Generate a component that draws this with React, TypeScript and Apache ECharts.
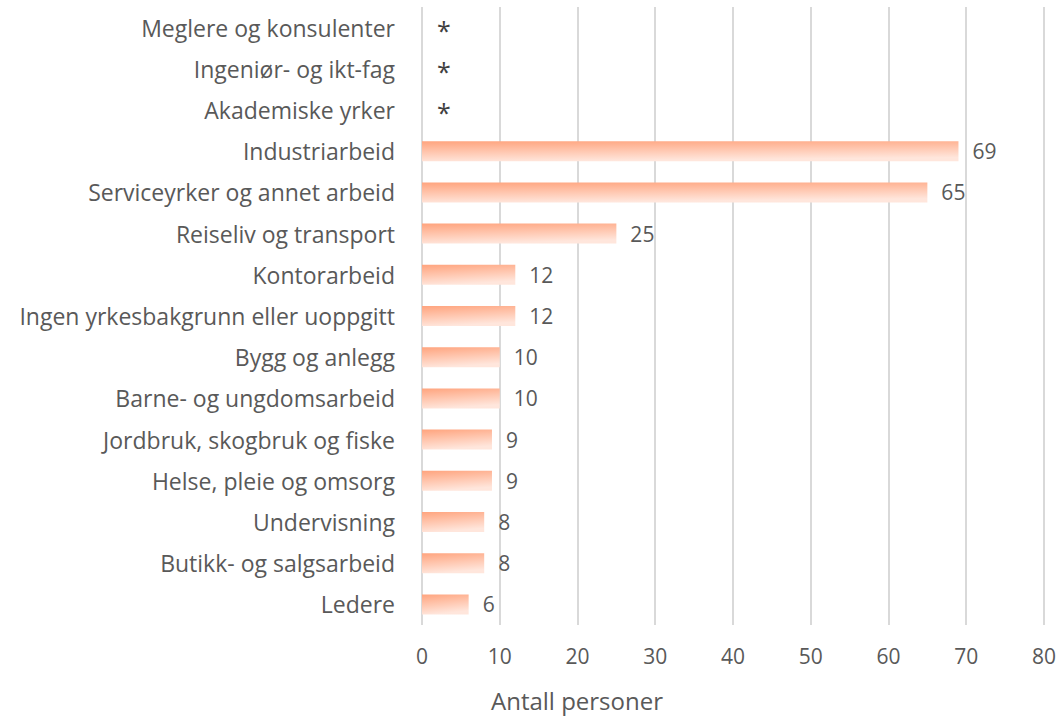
import React, { useEffect, useRef } from "react";
import * as echarts from "echarts";

const categories = [
  "Meglere og konsulenter",
  "Ingeniør- og ikt-fag",
  "Akademiske yrker",
  "Industriarbeid",
  "Serviceyrker og annet arbeid",
  "Reiseliv og transport",
  "Kontorarbeid",
  "Ingen yrkesbakgrunn eller uoppgitt",
  "Bygg og anlegg",
  "Barne- og ungdomsarbeid",
  "Jordbruk, skogbruk og fiske",
  "Helse, pleie og omsorg",
  "Undervisning",
  "Butikk- og salgsarbeid",
  "Ledere",
];
// null = suppressed value shown as "*"
const values: (number | null)[] = [null, null, null, 69, 65, 25, 12, 12, 10, 10, 9, 9, 8, 8, 6];
const axisTitle = "Antall personer";

const FONT = "'Open Sans', sans-serif";
const TEXT = "#595959";

export default function App() {
  const ref = useRef<HTMLDivElement>(null);
  useEffect(() => {
    if (!ref.current) return;
    const chart = echarts.init(ref.current, undefined, { renderer: "svg" });
    chart.setOption({
      animation: false,
      grid: { left: 422, right: 15, top: 7, bottom: 91, containLabel: false },
      xAxis: {
        type: "value",
        min: 0,
        max: 80,
        interval: 10,
        axisLine: { show: false },
        axisTick: { show: false },
        splitLine: { show: true, lineStyle: { color: "#d9d9d9", width: 2 } },
        axisLabel: { color: TEXT, fontSize: 21, fontFamily: FONT, margin: 20 },
      },
      yAxis: {
        type: "category",
        inverse: true,
        data: categories,
        axisLine: { show: false },
        axisTick: { show: false },
        axisLabel: { color: TEXT, fontSize: 23, fontFamily: FONT, margin: 27 },
      },
      graphic: [
        {
          type: "text",
          left: 491,
          top: 688,
          style: { text: axisTitle, fill: TEXT, font: `24px ${FONT}` },
        },
      ],
      series: [
        {
          type: "bar",
          barWidth: 20,
          data: values.map((v) => (v === null ? 0 : v)),
          itemStyle: {
            color: new echarts.graphic.LinearGradient(0, 0, 0.25, 1, [
              { offset: 0, color: "#ffa47e" },
              { offset: 1, color: "#ffe6dc" },
            ]),
          },
          label: {
            show: true,
            position: "right",
            distance: 14,
            color: TEXT,
            fontSize: 21,
            fontFamily: FONT,
            formatter: (p: any) => (values[p.dataIndex] === null ? "{s|*}" : String(p.value)),
            rich: {
              s: { fontSize: 25, color: "#404040", fontFamily: FONT, padding: [4, 0, 0, 1] },
            },
          },
        },
      ],
    });
    return () => chart.dispose();
  }, []);
  return <div ref={ref} style={{ width: 1059, height: 716, position: "absolute", left: 0, top: 0 }} />;
}
